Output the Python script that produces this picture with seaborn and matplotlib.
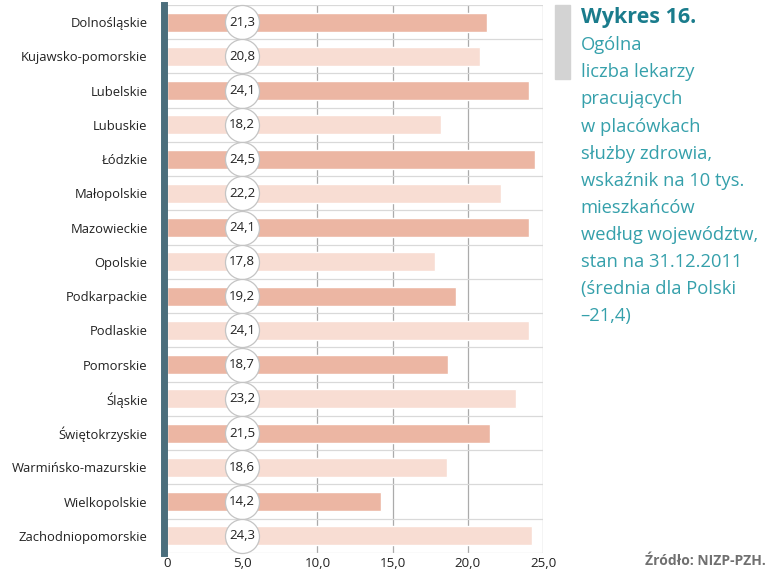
import pandas as pd
import seaborn as sns
import matplotlib.pyplot as plt
from matplotlib.ticker import FuncFormatter

wojewodztwa = [
    'Dolnośląskie', 'Kujawsko-pomorskie', 'Lubelskie', 'Lubuskie', 'Łódzkie',
    'Małopolskie', 'Mazowieckie', 'Opolskie', 'Podkarpackie', 'Podlaskie',
    'Pomorskie', 'Śląskie', 'Świętokrzyskie', 'Warmińsko-mazurskie',
    'Wielkopolskie', 'Zachodniopomorskie',
]
wskaznik = [21.3, 20.8, 24.1, 18.2, 24.5, 22.2, 24.1, 17.8,
            19.2, 24.1, 18.7, 23.2, 21.5, 18.6, 14.2, 24.3]
ticks_x = [0, 5, 10, 15, 20, 25]

sns.set_style('white')
plt.rcParams['font.family'] = ['Open Sans', 'DejaVu Sans']

df = pd.DataFrame({'woj': wojewodztwa, 'val': wskaznik})
kolory = ['#ecb6a3' if i % 2 == 0 else '#f8ddd3' for i in range(len(df))]

fig = plt.figure(figsize=(7.71, 5.75), dpi=100)
ax = fig.add_axes([0.2166, 0.0383, 0.4877, 0.953])

sns.barplot(data=df, x='val', y='woj', hue='woj', palette=kolory,
            legend=False, width=0.55, saturation=1, ax=ax, zorder=2)

# bubbles with values
ax.scatter([5] * len(df), range(len(df)), s=600, facecolor='white',
           edgecolor='#c4c4c4', linewidth=0.9, zorder=4, clip_on=False)
for i, v in enumerate(wskaznik):
    ax.text(5, i, f'{v:.1f}'.replace('.', ','), ha='center', va='center',
            fontsize=9.5, color='#222222', zorder=5)

ax.set_xlim(0, 25)
ax.set_ylim(len(df) - 0.5, -0.5)
ax.set_xticks(ticks_x)
ax.xaxis.set_major_formatter(FuncFormatter(
    lambda v, p: '0' if v == 0 else f'{v:.1f}'.replace('.', ',')))
for x in ticks_x[1:]:
    ax.axvline(x, color='#ababab', lw=0.9, zorder=1)
for y in range(len(df) + 1):
    ax.axhline(y - 0.5, color='#d9d9d9', lw=0.9, zorder=1)

ax.set_xlabel('')
ax.set_ylabel('')
ax.tick_params(axis='y', length=0, labelsize=9.4, colors='#222222', pad=12)
ax.tick_params(axis='x', length=0, labelsize=9.6, colors='#222222', pad=3)
for s in ['top', 'right', 'bottom']:
    ax.spines[s].set_visible(False)
ax.spines['left'].set_color('#4b6e7c')
ax.spines['left'].set_linewidth(5)
ax.spines['left'].set_position(('outward', 2))

# title block
fig.patches.append(plt.Rectangle((0.720, 0.862), 0.019, 0.130,
                                 transform=fig.transFigure,
                                 color='#d3d3d3'))
fig.text(0.753, 0.988, 'Wykres 16.', fontsize=15.5, fontweight='bold',
         color='#1a7c8c', va='top', ha='left')
opis = ('Ogólna\nliczba lekarzy\npracujących\nw placówkach\n'
        'służby zdrowia,\nwskaźnik na 10 tys.\nmieszkańców\n'
        'według województw,\nstan na 31.12.2011\n(średnia dla Polski\n–21,4)')
fig.text(0.753, 0.937, opis, fontsize=13.2, fontweight='normal',
         color='#35a0ab', va='top', ha='left', linespacing=1.65)
fig.text(0.993, 0.012, 'Źródło: NIZP-PZH.', fontsize=10, fontweight='bold',
         color='#707070', ha='right', va='bottom')

fig.savefig('out.png', dpi=100)
